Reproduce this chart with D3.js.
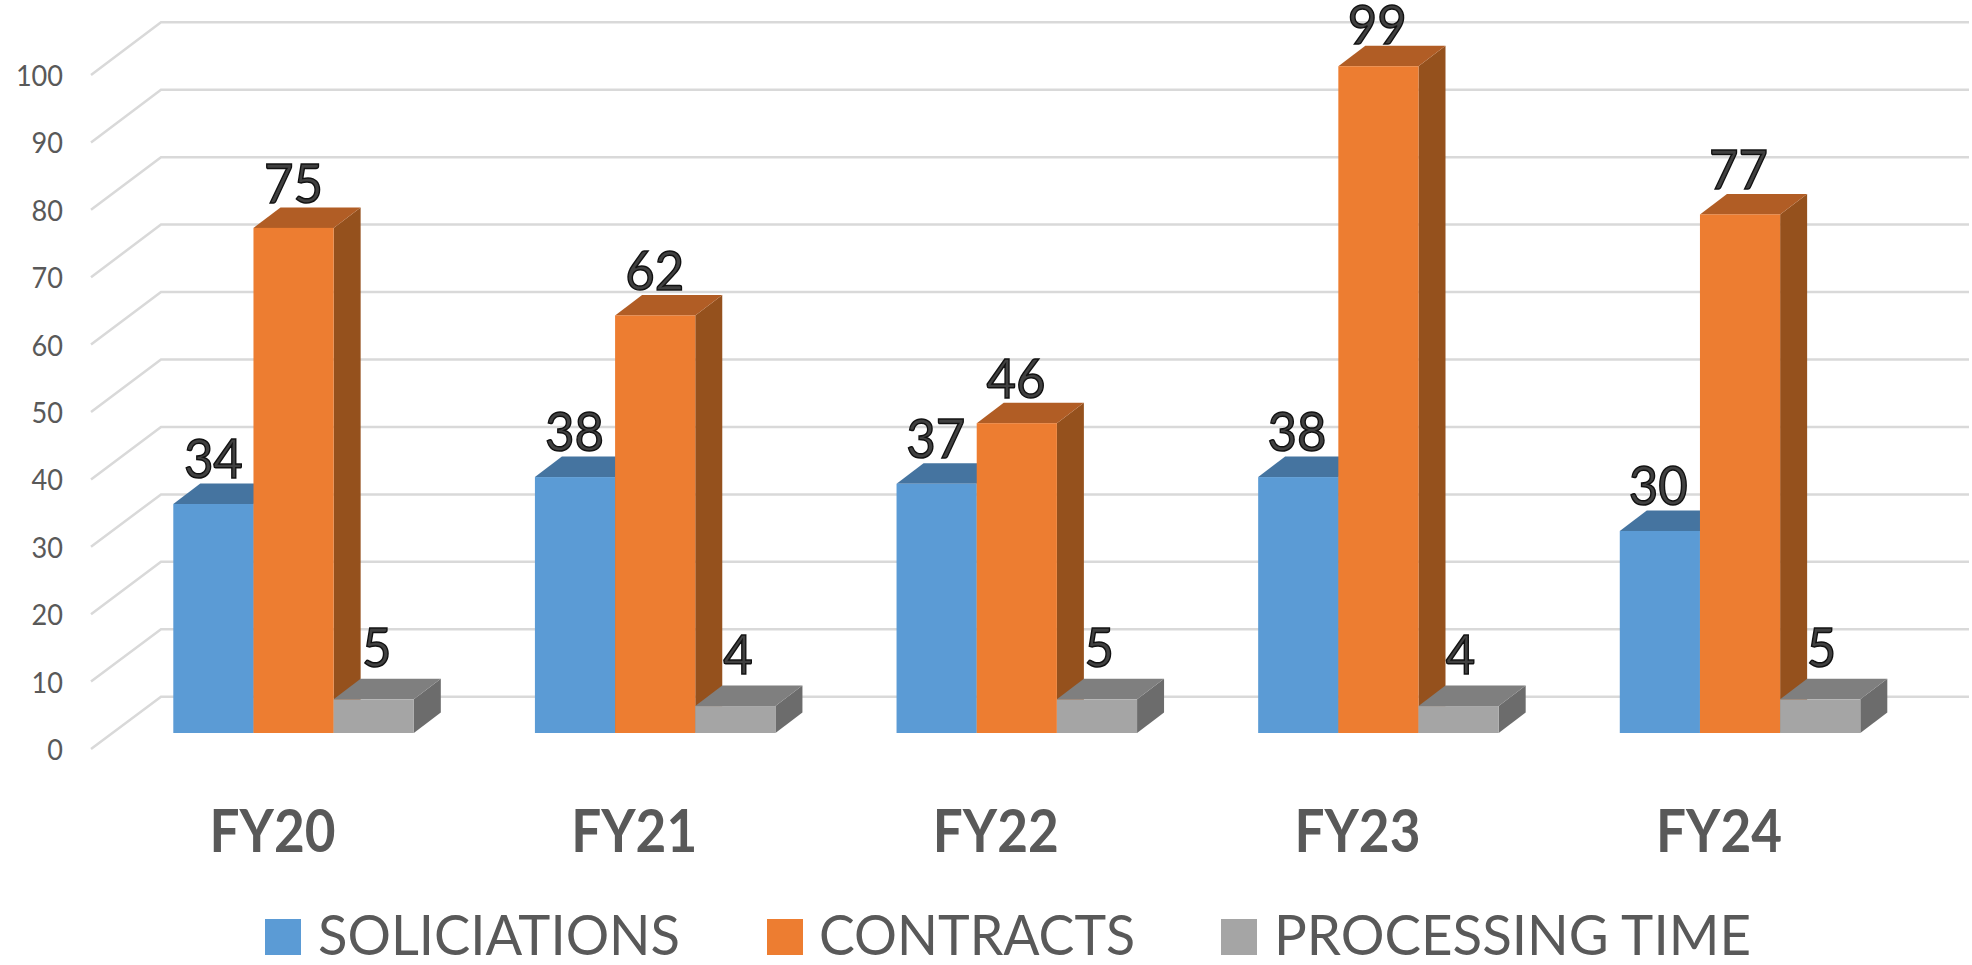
<!DOCTYPE html>
<html><head><meta charset="utf-8">
<script src="https://cdnjs.cloudflare.com/ajax/libs/d3/7.8.5/d3.min.js"></script>
<style>html,body{margin:0;padding:0;background:#fff;overflow:hidden}svg{display:block}</style>
</head><body><svg id="c" width="1972" height="965"></svg>
<script>
const categories = ["FY20","FY21","FY22","FY23","FY24"];
const seriesNames = ["SOLICIATIONS","CONTRACTS","PROCESSING TIME"];
const solicitations = [34,38,37,38,30];
const contracts = [75,62,46,99,77];
const processingTime = [5,4,5,4,5];
const yTicks = [0,10,20,30,40,50,60,70,80,90,100];

const seriesValues = [solicitations, contracts, processingTime];
const faceColors = ["#5B9BD5","#ED7D31","#A5A5A5"];
const topColors  = ["#4574A0","#B15D25","#7F7F7F"];
const sideColors = ["#3D6A94","#95511D","#6C6C6C"];
const labelRise  = [26,25,32];

const svg = d3.select("#c");
const dx = 27, dy = 20.5;
const x0 = d3.scaleBand().domain(categories).range([173.3,1860.3]).paddingInner(121.1/361.6).paddingOuter(0);
const x1 = d3.scaleBand().domain(seriesNames).range([0,x0.bandwidth()]);
const y = d3.scaleLinear().domain([0,100]).range([733,59.5]);
const wallFront = d3.scaleLinear().domain([0,100]).range([749,75]);
const wallBack = d3.scaleLinear().domain([0,100]).range([696.7,22.3]);
const wallX = {front:91, back:161, end:1969};

// gridlines on the floor/side wall and back wall
const grid = svg.append("g").attr("fill","none").attr("stroke","#D9D9D9").attr("stroke-width",2.5);
grid.selectAll("path").data(yTicks).join("path")
  .attr("d", v => d3.line()([[wallX.front,wallFront(v)],[wallX.back,wallBack(v)],[wallX.end,wallBack(v)]]));

// value axis
const yAxis = svg.append("g").attr("transform","translate(63,0)")
  .call(d3.axisLeft(wallFront).tickValues(yTicks).tickSize(0).tickPadding(0));
yAxis.select(".domain").remove();
yAxis.selectAll("text").attr("font-family","Lato").attr("font-size",29).attr("fill","#595959").attr("dy","10.5").attr("dominant-baseline","auto")
  .attr("textLength",d => String(d).length*15.7).attr("lengthAdjust","spacingAndGlyphs");

// category axis
const xAxis = svg.append("g").attr("transform","translate(0,852)")
  .call(d3.axisBottom(d3.scalePoint().domain(categories).range([x0(categories[0])+x0.bandwidth()/2-21.5, x0(categories[4])+x0.bandwidth()/2-21.5])).tickSize(0).tickPadding(0));
xAxis.select(".domain").remove();
xAxis.selectAll("text").attr("font-family","Lato").attr("font-weight",700).attr("font-size",59).attr("fill","#595959")
  .attr("dy",0).attr("y",0).attr("textLength",126).attr("lengthAdjust","spacingAndGlyphs");

// 3D bars, painted series by series so later series sit in front
seriesNames.forEach((name,s) => {
  const g = svg.append("g").attr("class","series");
  const rows = categories.map((c,i) => ({c, v:seriesValues[s][i]}));
  const L = d => x0(d.c)+x1(name), R = d => L(d)+x1.bandwidth(), T = d => y(d.v), B = y(0);
  const line = d3.line();
  g.selectAll(".side").data(rows).join("path").attr("class","side").attr("fill",sideColors[s])
    .attr("d",d => line([[R(d),T(d)],[R(d)+dx,T(d)-dy],[R(d)+dx,B-dy],[R(d),B]])+"Z");
  g.selectAll(".top").data(rows).join("path").attr("class","top").attr("fill",topColors[s])
    .attr("d",d => line([[L(d),T(d)],[L(d)+dx,T(d)-dy],[R(d)+dx,T(d)-dy],[R(d),T(d)]])+"Z");
  g.selectAll(".face").data(rows).join("rect").attr("class","face").attr("fill",faceColors[s])
    .attr("x",L).attr("y",T).attr("width",x1.bandwidth()).attr("height",d => B-T(d));
});

// data labels
seriesNames.forEach((name,s) => {
  svg.append("g").selectAll("text").data(categories.map((c,i)=>({c,i,v:seriesValues[s][i]}))).join("text")
    .attr("x",d => x0(d.c)+x1(name)+x1.bandwidth()/2+(s===2?3:0)-d.i*0.4)
    .attr("y",d => Math.max(44,y(d.v)-labelRise[s]))
    .attr("text-anchor","middle").attr("font-family","Lato").attr("font-size",55)
    .attr("fill","#404040").attr("stroke","#111").attr("stroke-width",1.5)
    .attr("textLength",d => String(d.v).length*29.5).attr("lengthAdjust","spacingAndGlyphs")
    .text(d => d.v);
});

// legend
const legendSwatchX = d3.scaleOrdinal().domain(seriesNames).range([265,767,1221]);
const legendTextX = d3.scaleOrdinal().domain(seriesNames).range([318,819,1274]);
const legendTextW = d3.scaleOrdinal().domain(seriesNames).range([362,316,477]);
const lg = svg.append("g").selectAll("g").data(seriesNames).join("g");
lg.append("rect").attr("x",d=>legendSwatchX(d)).attr("y",919).attr("width",36).attr("height",36)
  .attr("fill",(d,i)=>faceColors[i]);
lg.append("text").attr("x",d=>legendTextX(d)).attr("y",954.5)
  .attr("font-family","Lato").attr("font-size",56).attr("fill","#595959")
  .attr("textLength",d=>legendTextW(d)).attr("lengthAdjust","spacingAndGlyphs")
  .text(d=>d);
</script></body></html>
